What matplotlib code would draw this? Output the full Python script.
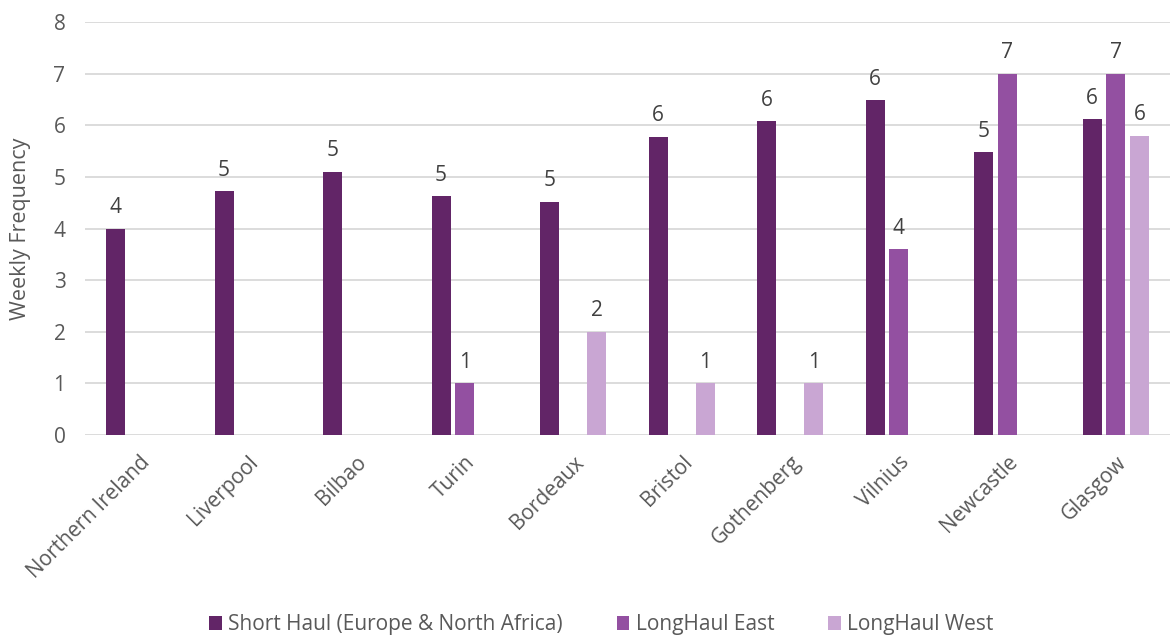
import numpy as np
import matplotlib.pyplot as plt

plt.rcParams['font.family'] = ['Open Sans', 'DejaVu Sans']

cities = ['Northern Ireland', 'Liverpool', 'Bilbao', 'Turin', 'Bordeaux',
          'Bristol', 'Gothenberg', 'Vilnius', 'Newcastle', 'Glasgow']
series = ['Short Haul (Europe & North Africa)', 'LongHaul East', 'LongHaul West']
short_haul = [4.0, 4.72, 5.1, 4.63, 4.52, 5.78, 6.08, 6.48, 5.48, 6.12]
long_east = [np.nan, np.nan, np.nan, 1.0, np.nan, np.nan, np.nan, 3.6, 7.0, 7.0]
long_west = [np.nan, np.nan, np.nan, np.nan, 2.0, 1.0, 1.0, np.nan, np.nan, 5.8]
colors = ['#622567', '#9350A1', '#C9A6D3']

fig = plt.figure(figsize=(11.7, 6.4), dpi=100)
ax = fig.add_axes([0.0726, 0.3203, 0.9274, 0.6453])

x = np.arange(len(cities))
slot = 0.218
width = 0.175
for i, (vals, name, col) in enumerate(zip([short_haul, long_east, long_west], series, colors)):
    pos = x + (i - 1) * slot
    v = np.array(vals, dtype=float)
    ax.bar(pos, np.nan_to_num(v), width, color=col, label=name, zorder=2)
    for xp, val in zip(pos, v):
        if not np.isnan(val):
            ax.text(xp, val + 0.2, f'{val:.0f}', ha='center', va='bottom',
                    fontsize=15, color='#404040')

ax.set_xlim(-0.5, len(cities) - 0.5)
ax.set_ylim(0, 8)
ax.set_yticks(range(0, 9))
ax.yaxis.grid(True, color='#D9D9D9', linewidth=1.3, zorder=0)
ax.set_axisbelow(True)
for s in ax.spines.values():
    s.set_visible(False)
ax.tick_params(axis='both', length=0, labelsize=15, labelcolor='#595959')
ax.tick_params(axis='y', pad=14)
ax.set_xticks(x)
ax.set_xticklabels(cities, rotation=45, ha='right', va='top', rotation_mode='anchor')
ax.tick_params(axis='x', pad=12)
ax.set_ylabel('Weekly Frequency', fontsize=15.5, color='#595959', labelpad=16)

fig.legend(loc='lower center', bbox_to_anchor=(0.514, -0.022), ncol=3, frameon=False,
           fontsize=15, labelcolor='#595959', handlelength=0.6, handleheight=0.7,
           handletextpad=0.3, columnspacing=2.6)

fig.savefig('out.png', dpi=100)
